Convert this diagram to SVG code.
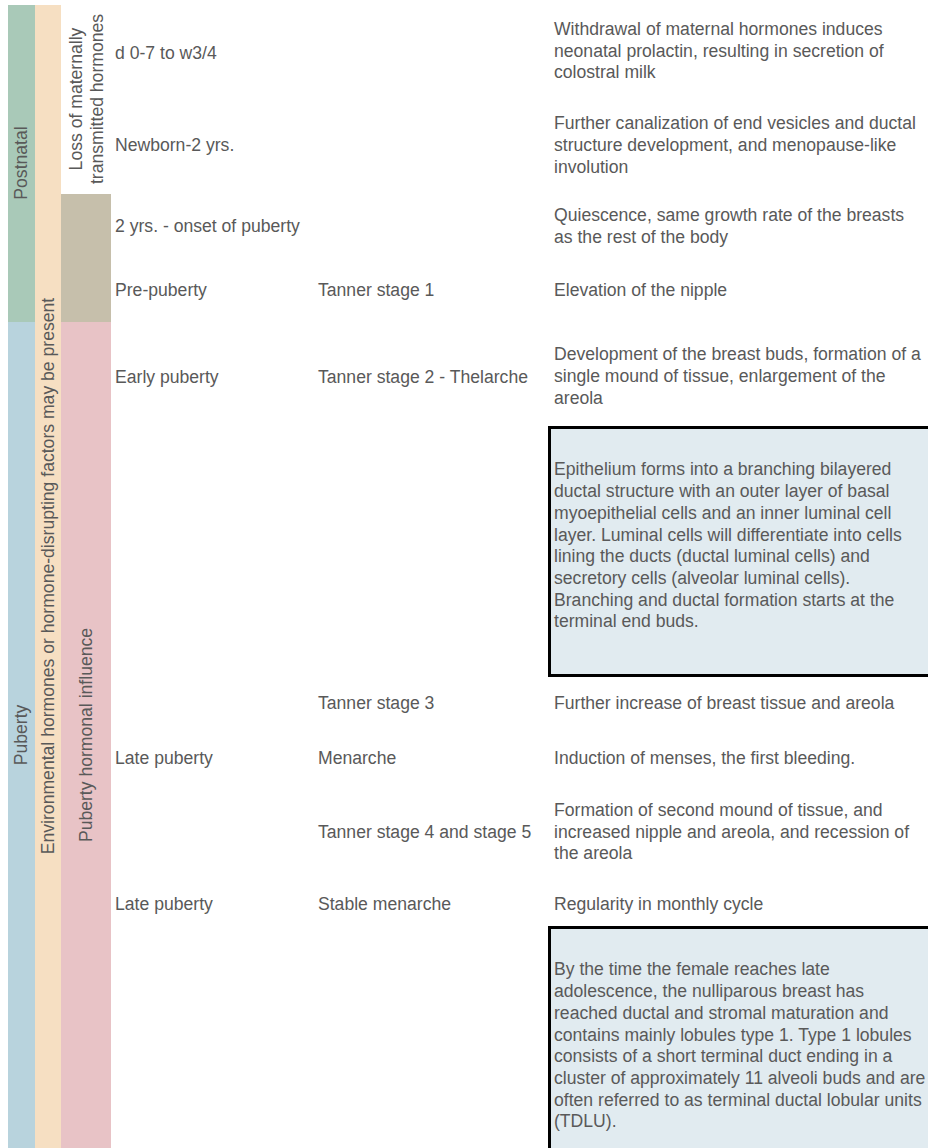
<svg xmlns="http://www.w3.org/2000/svg" width="928" height="1148" viewBox="0 0 928 1148">
<style>
text{font-family:"Liberation Sans",Arial,sans-serif;font-size:17.6px;fill:#595959}
.box{fill:#e1ebf0;stroke:#000;stroke-width:3}
</style>
<rect width="928" height="1148" fill="#fff"/>
<g id="bars">
<g id="postnatal"><rect x="8" y="5" width="27" height="317" fill="#a9c9b8"/><text transform="translate(27,163) rotate(-90)" text-anchor="middle">Postnatal</text></g>
<g id="puberty"><rect x="8" y="322" width="27" height="826" fill="#b8d3dd"/><text transform="translate(27,735) rotate(-90)" text-anchor="middle">Puberty</text></g>
<g id="environmental"><rect x="35" y="5" width="26" height="1143" fill="#f6dfc2"/><text transform="translate(54,576) rotate(-90)" text-anchor="middle">Environmental hormones or hormone-disrupting factors may be present</text></g>
<g id="loss"><text transform="translate(82,99) rotate(-90)" text-anchor="middle">Loss of maternally</text><text transform="translate(103,99) rotate(-90)" text-anchor="middle">transmitted hormones</text></g>
<g id="prepub"><rect x="61" y="194" width="50" height="128" fill="#c6bfab"/></g>
<g id="hormonal"><rect x="61" y="322" width="50" height="826" fill="#e8c3c6"/><text transform="translate(92,735) rotate(-90)" text-anchor="middle">Puberty hormonal influence</text></g>
</g>
<g id="connectors"></g>
<g id="row1"><text x="115" y="59">d 0-7 to w3/4</text>
<text x="554" y="35">Withdrawal of maternal hormones induces</text><text x="554" y="57">neonatal prolactin, resulting in secretion of</text><text x="554" y="78">colostral milk</text></g>
<g id="row2"><text x="115" y="151">Newborn-2 yrs.</text>
<text x="554" y="129">Further canalization of end vesicles and ductal</text><text x="554" y="151">structure development, and menopause-like</text><text x="554" y="173">involution</text></g>
<g id="row3"><text x="115" y="232">2 yrs. - onset of puberty</text>
<text x="554" y="221">Quiescence, same growth rate of the breasts</text><text x="554" y="243">as the rest of the body</text></g>
<g id="row4"><text x="115" y="296">Pre-puberty</text><text x="318" y="296">Tanner stage 1</text><text x="554" y="296">Elevation of the nipple</text></g>
<g id="row5"><text x="115" y="383">Early puberty</text><text x="318" y="383">Tanner stage 2 - Thelarche</text>
<text x="554" y="360">Development of the breast buds, formation of a</text><text x="554" y="382">single mound of tissue, enlargement of the</text><text x="554" y="404">areola</text></g>
<g id="box1"><rect class="box" x="549.5" y="427.5" width="400" height="248"/>
<text x="554" y="475">Epithelium forms into a branching bilayered</text>
<text x="554" y="497">ductal structure with an outer layer of basal</text>
<text x="554" y="519">myoepithelial cells and an inner luminal cell</text>
<text x="554" y="541">layer. Luminal cells will differentiate into cells</text>
<text x="554" y="562">lining the ducts (ductal luminal cells) and</text>
<text x="554" y="584">secretory cells (alveolar luminal cells).</text>
<text x="554" y="606">Branching and ductal formation starts at the</text>
<text x="554" y="627">terminal end buds.</text></g>
<g id="row6"><text x="318" y="709">Tanner stage 3</text><text x="554" y="709">Further increase of breast tissue and areola</text></g>
<g id="row7"><text x="115" y="764">Late puberty</text><text x="318" y="764">Menarche</text><text x="554" y="764">Induction of menses, the first bleeding.</text></g>
<g id="row8"><text x="318" y="838">Tanner stage 4 and stage 5</text>
<text x="554" y="816">Formation of second mound of tissue, and</text><text x="554" y="838">increased nipple and areola, and recession of</text><text x="554" y="859">the areola</text></g>
<g id="row9"><text x="115" y="910">Late puberty</text><text x="318" y="910">Stable menarche</text><text x="554" y="910">Regularity in monthly cycle</text></g>
<g id="box2"><rect class="box" x="549.5" y="927.5" width="400" height="240"/>
<text x="554" y="975">By the time the female reaches late</text>
<text x="554" y="997">adolescence, the nulliparous breast has</text>
<text x="554" y="1019">reached ductal and stromal maturation and</text>
<text x="554" y="1041">contains mainly lobules type 1. Type 1 lobules</text>
<text x="554" y="1062">consists of a short terminal duct ending in a</text>
<text x="554" y="1084">cluster of approximately 11 alveoli buds and are</text>
<text x="554" y="1106">often referred to as terminal ductal lobular units</text>
<text x="554" y="1127">(TDLU).</text></g>
</svg>
